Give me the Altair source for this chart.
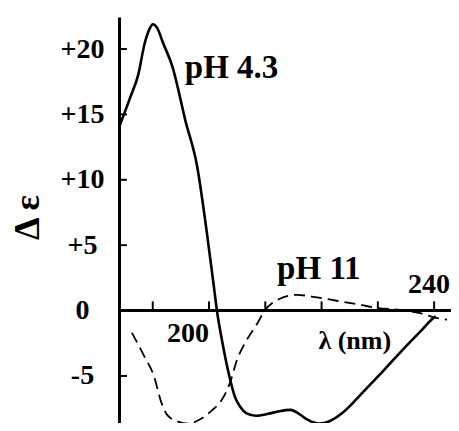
import altair as alt
import pandas as pd

# pH 4.3 spectrum (solid)
solid_x = [184.0, 186.0, 187.4, 188.6, 189.5, 190.0, 190.8, 191.8, 193.6, 194.8, 195.7, 197.9,
           199.6, 200.9, 201.4, 202.4, 203.6, 204.6, 205.6, 206.6, 208.3, 210.5, 212.5, 214.5,
           216.0, 217.5, 219.5, 221.5, 223.5, 225.6, 228.0, 231.0, 234.4, 238.0, 239.8, 240.3]
solid_y = [14.0, 16.3, 18.0, 20.5, 21.6, 21.9, 21.6, 20.5, 18.5, 16.4, 14.7, 11.0,
           6.0, 1.7, 0.0, -2.5, -5.0, -6.6, -7.4, -7.85, -8.05, -7.9, -7.7, -7.6,
           -7.9, -8.35, -8.65, -8.45, -7.9, -7.05, -5.95, -4.6, -3.0, -1.4, -0.6, -0.45]

# pH 11 spectrum (dashed)
dash_x = [186.3, 188.5, 190.2, 191.5, 192.6, 194.5, 196.3, 198.5, 200.6, 202.0, 203.7, 205.0,
          206.7, 208.5, 209.9, 212.1, 215.6, 219.2, 222.7, 226.8, 229.8, 233.9, 237.5, 239.8, 242.3]
dash_y = [-1.7, -3.5, -5.0, -7.0, -8.0, -8.5, -8.65, -8.3, -7.6, -7.0, -5.55, -3.75,
          -2.25, -1.05, 0.0, 0.8, 1.2, 1.0, 0.75, 0.45, 0.2, 0.05, -0.2, -0.5, -0.7]

xtick_values = [190, 200, 210, 220, 230, 240]
ytick_values = [-5, 5, 10, 15, 20]
ylabel_values = [-5, 0, 5, 10, 15, 20]

X_DOMAIN = [184, 243]
Y_DOMAIN = [-8.6, 22.45]

FONT = "Liberation Serif"

xs = alt.Scale(domain=X_DOMAIN, nice=False, zero=False)
ys = alt.Scale(domain=Y_DOMAIN, nice=False, zero=False)

yaxis = alt.Axis(
    values=ylabel_values,
    labelExpr="datum.value > 0 ? '+' + datum.value : '' + datum.value",
    tickSize=0,
    labelPadding=37,
    labelAlign="center",
    labelBaseline="middle",
    labelFont=FONT,
    labelFontWeight="bold",
    labelFontSize=28,
    labelColor="black",
    labelFlush=False,
    labelOverlap=False,
    domainColor="black",
    domainWidth=3,
    grid=False,
    title="Δ ε",
    titleFont=FONT,
    titleFontSize=36,
    titleFontWeight="bold",
    titleColor="black",
    titleAngle=270,
    titleX=-92,
    titleY=200,
    titleAlign="center",
    titleBaseline="middle",
)

x_enc = alt.X("x:Q", scale=xs, axis=None)
y_enc = alt.Y("y:Q", scale=ys, axis=yaxis)

solid = alt.Chart(pd.DataFrame({"x": solid_x, "y": solid_y})).mark_line(
    color="black", strokeWidth=2.6, interpolate="monotone"
).encode(x=x_enc, y=y_enc)

dashed = alt.Chart(pd.DataFrame({"x": dash_x, "y": dash_y})).mark_line(
    color="black", strokeWidth=1.8, strokeDash=[11, 6], interpolate="monotone"
).encode(x=x_enc, y=y_enc)

zero_line = alt.Chart(pd.DataFrame({"x": [X_DOMAIN[0]], "x2": [X_DOMAIN[1]], "y": [0]})).mark_rule(
    color="black", strokeWidth=3
).encode(x=x_enc, x2=alt.X2("x2"), y=y_enc)

xticks = alt.Chart(pd.DataFrame({"x": xtick_values, "y": [0] * len(xtick_values),
                                 "y2": [0.7] * len(xtick_values)})).mark_rule(
    color="black", strokeWidth=2
).encode(x=x_enc, y=y_enc, y2=alt.Y2("y2"))

yticks = alt.Chart(pd.DataFrame({"y": ytick_values, "x": [X_DOMAIN[0]] * len(ytick_values),
                                 "x2": [185.4] * len(ytick_values)})).mark_rule(
    color="black", strokeWidth=2
).encode(x=x_enc, x2=alt.X2("x2"), y=y_enc)


def label(x, y, t, size, align="left", baseline="alphabetic", dx=0, dy=0):
    return alt.Chart(pd.DataFrame({"x": [x], "y": [y], "t": [t]})).mark_text(
        font=FONT, fontWeight="bold", fontSize=size, align=align, baseline=baseline,
        dx=dx, dy=dy, color="black"
    ).encode(x=x_enc, y=y_enc, text="t:N")


texts = [
    label(200, 0, "200", 28, align="right", baseline="middle", dy=23),
    label(240, 0, "240", 28, align="right", baseline="middle", dx=16, dy=-26),
    label(195.7, 17.8, "pH 4.3", 33),
    label(212.1, 2.4, "pH 11", 33),
    label(225.9, -2.33, "λ (nm)", 26, align="center", baseline="middle"),
]

chart = alt.layer(solid, dashed, zero_line, xticks, yticks, *texts).properties(
    width=332,
    height=406,
    autosize=alt.AutoSizeParams(type="none"),
    padding={"left": 111, "top": 9, "right": 0, "bottom": 0},
).configure_view(stroke=None)

chart.save("out.html", embed_options={"renderer": "svg", "actions": False})
